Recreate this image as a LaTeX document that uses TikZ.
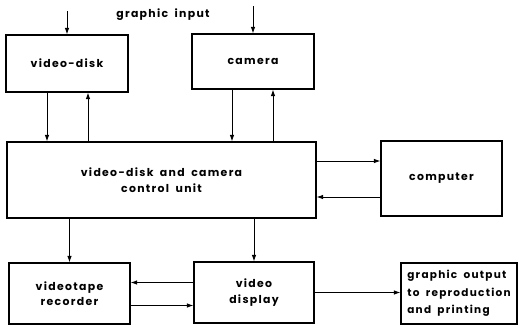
\documentclass[tikz,border=0pt]{standalone}
\usepackage{fontspec}
\setmainfont{Poppins}[LetterSpace=12, WordSpace=1.8]
\usetikzlibrary{positioning, arrows.meta}

\begin{document}
\begin{tikzpicture}[
  x=1pt, y=-1pt,
  block/.style={rectangle, draw=black, line width=1.1pt, inner sep=2pt},
  arr/.style={draw=black, line width=0.9pt, -{Latex[length=6.5pt, width=4.5pt]}},
  every node/.style={font=\fontsize{10.9}{15.5}\selectfont\bfseries}
]
\useasboundingbox (0,0) rectangle (518,325);

% === BLOCCHI ===
\node[block, minimum width=122pt, minimum height=57pt] (vdisk) at (67,63.5) {video-disk};
\node[block, minimum width=122pt, minimum height=55pt] (camera) at (253,61.5) {camera};
\node[block, minimum width=309pt, minimum height=76pt, align=center] (control) at (161.5,180)
  {video-disk and camera\\control unit};
\node[block, minimum width=121pt, minimum height=75pt] (computer) at (441.5,178.5) {computer};
\node[block, minimum width=121pt, minimum height=61pt, align=center] (vtr) at (69.5,293.5)
  {videotape\\recorder};
\node[block, minimum width=120pt, minimum height=61pt, align=center] (display) at (254,292.5)
  {video\\display};
\node[block, minimum width=116pt, minimum height=61pt, align=left,
  inner sep=1.5pt, font=\fontsize{10.5}{17.5}\selectfont\bfseries] (output) at (459,293.5)
  {graphic output\\to reproduction\\and printing};

% === INGRESSO ===
\node (input) at (163,15) {graphic input};
\coordinate (in1) at (67,11);
\coordinate (in2) at (253,6);
\draw[arr] (in1) -- (vdisk.north);
\draw[arr] (in2) -- (camera.north);

% === COLLEGAMENTI ===
\draw[arr] ([xshift=-20pt]vdisk.south) -- ([xshift=-20pt]vdisk.south |- control.north);
\draw[arr] ([xshift=21pt]vdisk.south |- control.north) -- ([xshift=21pt]vdisk.south);
\draw[arr] ([xshift=-21pt]camera.south) -- ([xshift=-21pt]camera.south |- control.north);
\draw[arr] ([xshift=20pt]camera.south |- control.north) -- ([xshift=20pt]camera.south);

\draw[arr] ([yshift=19pt]control.east) -- ([yshift=19pt]control.east -| computer.west);
\draw[arr] ([yshift=-17pt]control.east -| computer.west) -- ([yshift=-17pt]control.east);

\draw[arr] (control.south -| vtr.north) -- (vtr.north);
\draw[arr] (control.south -| display.north) -- (display.north);

\draw[arr] ([yshift=10pt]display.west) -- ([yshift=10pt]display.west -| vtr.east);
\draw[arr] ([yshift=-12pt]vtr.east) -- ([yshift=-12pt]vtr.east -| display.west);
\draw[arr] (display.east) -- (output.west |- display.east);

\end{tikzpicture}
\end{document}
